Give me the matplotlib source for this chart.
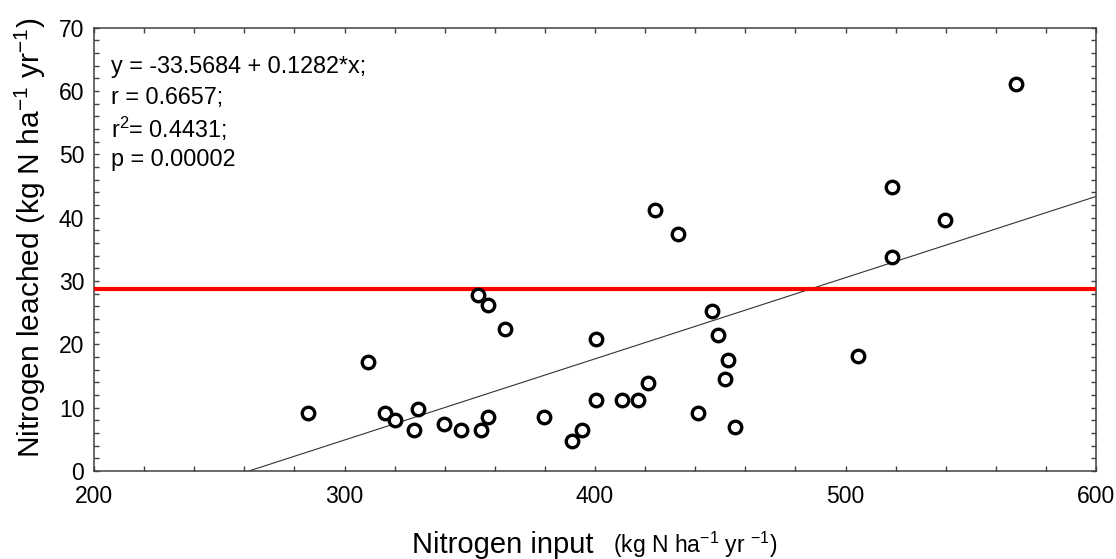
import numpy as np
import matplotlib
matplotlib.use('Agg')
import matplotlib.pyplot as plt
from matplotlib.ticker import MultipleLocator

# Data
n_input = [285.5, 309.3, 316.2, 320.2, 329.5, 327.9, 339.8, 346.5, 354.5, 357.4,
           353.2, 357.4, 364.1, 379.8, 390.7, 394.7, 400.3, 400.3, 410.7, 417.3,
           421.3, 424.0, 433.3, 441.2, 446.6, 449.2, 453.2, 451.9, 455.9, 505.1,
           518.4, 518.4, 539.7, 567.9]
n_leached = [9.1, 17.2, 9.1, 8.0, 9.75, 6.5, 7.5, 6.4, 6.4, 8.6,
             27.8, 26.2, 22.5, 8.6, 4.8, 6.5, 11.2, 20.9, 11.2, 11.2,
             13.9, 41.2, 37.5, 9.1, 25.2, 21.5, 17.6, 14.5, 7.0, 18.2,
             44.9, 33.8, 39.65, 61.1]

intercept = -33.5684
slope = 0.1282
threshold = 28.7
stats_lines = ['y = -33.5684 + 0.1282*x;', 'r = 0.6657;', 'r$^2$= 0.4431;', 'p = 0.00002']

plt.rcParams['font.family'] = ['Liberation Sans', 'DejaVu Sans']
plt.rcParams['mathtext.default'] = 'regular'

W, H = 1116, 559


def fx(px):
    return px / W


def fy(py):
    # pixel row from top -> figure fraction
    return 1 - py / H


fig = plt.figure(figsize=(W / 100, H / 100), dpi=100)
ax = fig.add_axes([fx(94), fy(471), (1096 - 94) / W, (471 - 27.7) / H])

xs = np.array([200.0, 600.0])
ax.plot(xs, intercept + slope * xs, color='#333333', lw=0.8, zorder=2)
ax.axhline(threshold, color='#ff0000', lw=3.0, zorder=3)
ax.plot(n_input, n_leached, 'o', ms=9, mfc='white', mec='black', mew=2.4,
        ls='none', zorder=4)

ax.set_xlim(200, 600)
ax.set_ylim(0, 70)
ax.xaxis.set_major_locator(MultipleLocator(100))
ax.xaxis.set_minor_locator(MultipleLocator(20))
ax.yaxis.set_major_locator(MultipleLocator(10))
ax.yaxis.set_minor_locator(MultipleLocator(2))
ax.tick_params(which='both', direction='in', top=True, right=True,
               length=3.5, width=1.0, color='#404040')
ax.tick_params(axis='x', which='major', labelsize=16.5, pad=10)
ax.tick_params(axis='y', which='major', labelsize=16.5, pad=7)
for s in ax.spines.values():
    s.set_color('#404040')
    s.set_linewidth(1.1)

for i, line in enumerate(stats_lines):
    fig.text(fx(111), fy(66.7 + 31 * i), line, fontsize=16.8, va='center')

fig.text(fx(30), fy(238), 'Nitrogen leached (kg N ha$^{-1}$ yr$^{-1}$)',
         rotation=90, ha='center', va='center', fontsize=21.5)
fig.text(fx(412), fy(553), 'Nitrogen input', ha='left', va='baseline', fontsize=21)
fig.text(fx(613), fy(553), '(kg N ha$^{-1}$ yr $^{-1}$)', ha='left', va='baseline',
         fontsize=16.5)

fig.savefig('out.png', dpi=100)
